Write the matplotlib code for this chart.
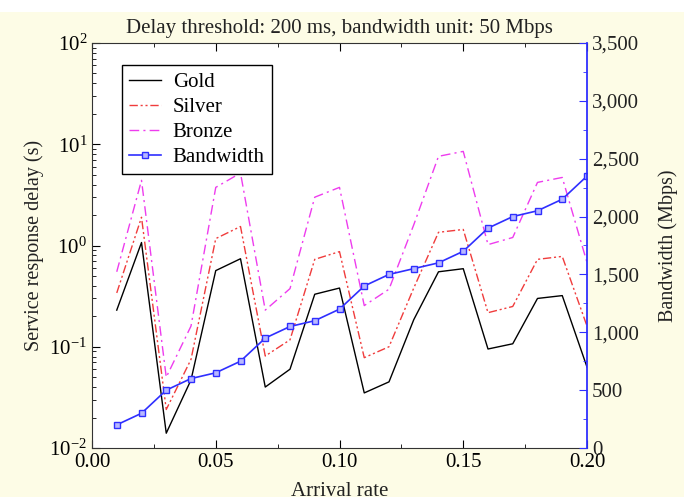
import matplotlib
matplotlib.use("Agg")
import matplotlib.pyplot as plt
from matplotlib.patches import Rectangle
from matplotlib.ticker import FuncFormatter, MultipleLocator, LogLocator

plt.rcParams["font.family"] = ["Liberation Serif", "DejaVu Serif"]
plt.rcParams["mathtext.fontset"] = "stix"

# data
arrival = [0.01, 0.02, 0.03, 0.04, 0.05, 0.06, 0.07, 0.08, 0.09, 0.10,
           0.11, 0.12, 0.13, 0.14, 0.15, 0.16, 0.17, 0.18, 0.19, 0.20]
gold = [0.23, 1.07, 0.014, 0.047, 0.565, 0.74, 0.040, 0.060, 0.33, 0.38,
        0.035, 0.045, 0.185, 0.55, 0.59, 0.095, 0.107, 0.30, 0.32, 0.063]
silver = [0.34, 1.9, 0.024, 0.075, 1.17, 1.54, 0.081, 0.117, 0.73, 0.87,
          0.078, 0.10, 0.38, 1.35, 1.44, 0.217, 0.25, 0.73, 0.78, 0.16]
bronze = [0.55, 4.4, 0.05, 0.16, 3.75, 5.2, 0.23, 0.375, 3.0, 3.75,
          0.255, 0.37, 1.6, 7.6, 8.5, 1.02, 1.2, 4.2, 4.7, 0.68]
bandwidth = [200, 300, 500, 600, 650, 750, 950, 1050, 1100, 1200,
             1400, 1500, 1550, 1600, 1700, 1900, 2000, 2050, 2150, 2350]

bg = "#fdfce6"
blue = "#2f2fff"
fs = 15

fig = plt.figure(figsize=(6.84, 4.97), dpi=100, facecolor=bg)
fig.patches.append(Rectangle((0, 1 - 12 / 497), 1, 12 / 497, transform=fig.transFigure,
                             facecolor="white", edgecolor="none", zorder=0))
ax = fig.add_axes([92 / 684, 49 / 497, 495 / 684, 405 / 497])
ax2 = ax.twinx()

l1, = ax.plot(arrival, gold, color="black", lw=1.0, label="Gold")
l2, = ax.plot(arrival, silver, color="#f03c3c", lw=1.0, dashes=[6, 2, 1.5, 2, 1.5, 2], label="Silver")
l3, = ax.plot(arrival, bronze, color="#ee3cee", lw=1.0, dashes=[7, 3, 1.5, 3], label="Bronze")
l4, = ax2.plot(arrival, bandwidth, color=blue, lw=1.2, marker="s", ms=4.5,
               mfc="#b8b8ff", mec=blue, mew=1.0, label="Bandwidth")

ax.set_yscale("log")
ax.set_ylim(1e-2, 1e2)
ax.set_xlim(0, 0.20)
ax.xaxis.set_major_locator(MultipleLocator(0.05))
ax.xaxis.set_minor_locator(MultipleLocator(0.025))
ax.xaxis.set_major_formatter(FuncFormatter(lambda v, p: f"{v:.2f}"))
ax.yaxis.set_minor_locator(LogLocator(base=10, subs=range(2, 10)))
ax.tick_params(which="both", direction="in", top=True, right=False, labelsize=fs)
ax.tick_params(which="major", length=6)
ax.tick_params(which="minor", length=3)
ax.spines["right"].set_visible(False)
for s in ["left", "bottom", "top"]:
    ax.spines[s].set_color("#333333")

ax2.set_ylim(0, 3500)
ax2.yaxis.set_major_locator(MultipleLocator(500))
ax2.yaxis.set_minor_locator(MultipleLocator(250))
ax2.yaxis.set_major_formatter(FuncFormatter(lambda v, p: f"{int(v):,}"))
ax2.tick_params(which="both", direction="in", colors=blue, labelcolor="#222222", labelsize=fs)
ax2.tick_params(which="major", length=6)
ax2.tick_params(which="minor", length=3)
ax2.spines["right"].set_color(blue)
ax2.spines["right"].set_linewidth(1.3)
for s in ["left", "bottom", "top"]:
    ax2.spines[s].set_visible(False)

ax.set_xlabel("Arrival rate", fontsize=fs, color="#222222", labelpad=7)
ax.set_ylabel("Service response delay (s)", fontsize=14.5, color="#222222", labelpad=4)
ax2.set_ylabel("Bandwidth (Mbps)", fontsize=14.5, color="#222222", labelpad=14)
ax.set_title("Delay threshold: 200 ms, bandwidth unit: 50 Mbps", fontsize=fs, color="#222222", pad=7)

leg = ax2.legend(handles=[l1, l2, l3, l4], loc="upper left", bbox_to_anchor=(0.06, 0.945),
                 borderaxespad=0, fontsize=fs, fancybox=False, framealpha=1,
                 edgecolor="black", handlelength=1.55, handletextpad=0.55,
                 labelspacing=0.26, borderpad=0.35)
leg.get_frame().set_linewidth(1.0)

fig.savefig("out.png", dpi=100, facecolor=fig.get_facecolor())
